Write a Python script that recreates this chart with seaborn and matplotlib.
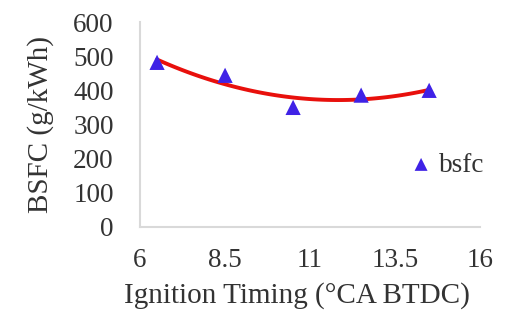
import numpy as np
import pandas as pd
import matplotlib
matplotlib.use("Agg")
import matplotlib.pyplot as plt
import seaborn as sns

# values
timing = [6.5, 8.5, 10.5, 12.5, 14.5]
bsfc = [482, 444, 350, 386, 400]
x_ticks = [6, 8.5, 11, 13.5, 16]
y_ticks = [0, 100, 200, 300, 400, 500, 600]

df = pd.DataFrame({"timing": timing, "bsfc": bsfc})

sns.set_theme(style="white")
plt.rcParams["font.family"] = ["Liberation Serif", "DejaVu Serif"]

fig = plt.figure(figsize=(5.13, 3.2), dpi=100)
ax = fig.add_axes([0.273, 0.291, 0.663, 0.64])

# quadratic trendline, like the spreadsheet one
coef = np.polyfit(timing, bsfc, 2)
xs = np.linspace(min(timing), max(timing), 100)
trend = pd.DataFrame({"timing": xs, "bsfc": np.polyval(coef, xs)})
sns.lineplot(data=trend, x="timing", y="bsfc", ax=ax, color="#e8100c", linewidth=2.8)

sns.scatterplot(data=df, x="timing", y="bsfc", ax=ax, marker="^", s=120,
                color="#3f22e6", edgecolor="none", label="bsfc", zorder=3)

ax.set_xlim(6, 16)
ax.set_ylim(0, 600)
ax.set_xticks(x_ticks)
ax.set_xticklabels(["6", "8.5", "11", "13.5", "16"])
ax.set_yticks(y_ticks)
ax.tick_params(labelsize=19.5, colors="#333333", length=0)
ax.tick_params(axis="x", pad=15)
ax.tick_params(axis="y", pad=19)
ax.set_xlabel("Ignition Timing (°CA BTDC)", fontsize=21, color="#333333", labelpad=12)
ax.xaxis.set_label_coords(0.46, -0.27)
ax.set_ylabel("BSFC (g/kWh)", fontsize=21, color="#333333", labelpad=14)

for side in ["top", "right"]:
    ax.spines[side].set_visible(False)
for side in ["left", "bottom"]:
    ax.spines[side].set_color("#d9d9d9")
    ax.spines[side].set_linewidth(1.5)

ax.legend(loc="center left", bbox_to_anchor=(394 / 513, 1 - 165 / 320),
          bbox_transform=fig.transFigure, frameon=False, fontsize=19.5,
          handlelength=1.0, handletextpad=0.15, borderpad=0, markerscale=0.85)
for t in ax.get_legend().get_texts():
    t.set_color("#333333")

fig.savefig("out.png", dpi=100)
